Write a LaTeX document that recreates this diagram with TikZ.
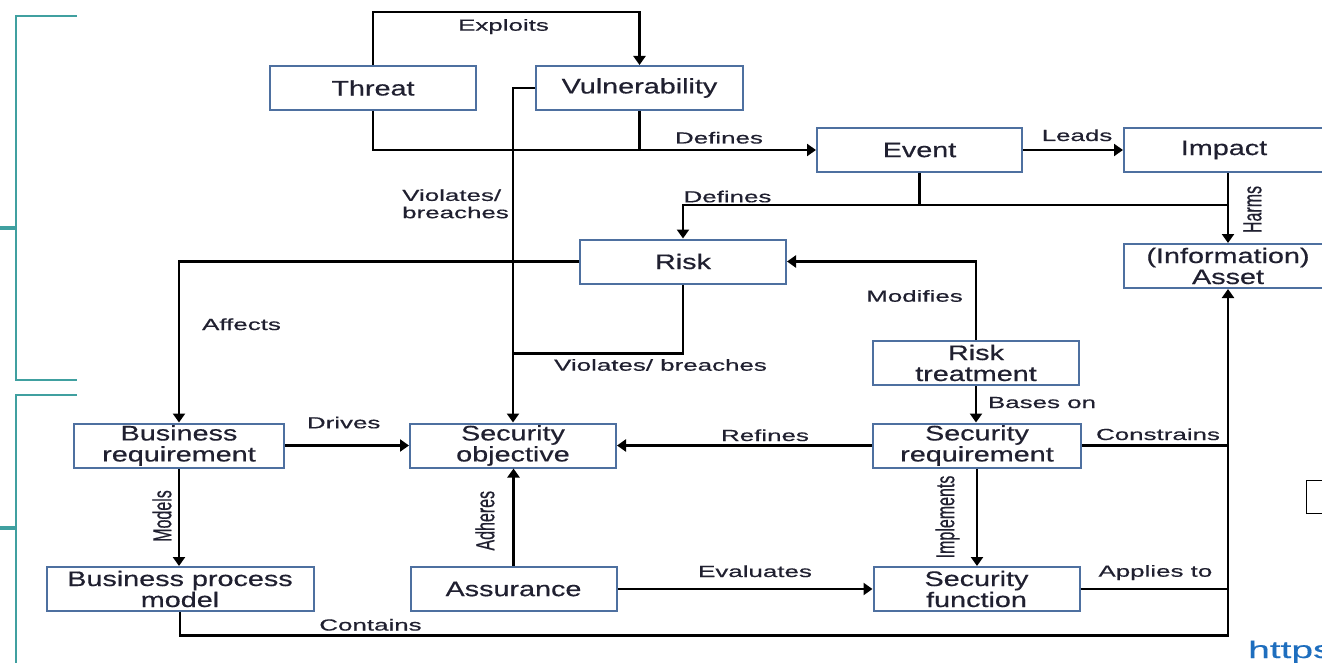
\documentclass[tikz,border=0pt]{standalone}
\usepackage{fontspec}
\usepackage{graphicx}
\usetikzlibrary{arrows.meta}
\setmainfont{Liberation Sans}[FakeBold=0.5]
\newfontfamily\boxfont{Liberation Sans}[FakeStretch=1.37, FakeBold=0.5]
\newfontfamily\lblfont{Liberation Sans}[FakeStretch=1.62, FakeBold=0.5]
\definecolor{boxblue}{RGB}{78,112,160}
\definecolor{inkdark}{RGB}{32,32,48}
\definecolor{bracketteal}{RGB}{64,160,160}
\definecolor{linkblue}{RGB}{30,110,190}
\tikzset{
  box/.style={draw=boxblue, line width=2pt, fill=white, minimum width=206,
    minimum height=44, inner sep=0pt, align=center, text=inkdark,
    font=\boxfont\fontsize{21}{21}\selectfont},
  conn/.style={line width=2.4pt, draw=black},
  arr/.style={conn, -{Triangle[length=9pt,width=12pt]}},
  lbl/.style={anchor=base, inner sep=0pt, text=inkdark,
    font=\lblfont\fontsize{16}{17.3}\selectfont},
  rlbl/.style={rotate=90, inner sep=0pt, text=inkdark,
    font=\fontsize{16}{16}\selectfont},
  brk/.style={draw=bracketteal, line width=2.4pt},
}
\newcommand{\tall}[1]{\scalebox{1}[1.62]{#1}}
\begin{document}
\begin{tikzpicture}[x=1pt,y=-1pt]
\useasboundingbox (0,0) rectangle (1322,663);
\clip (0,0) rectangle (1322,663);

% grouping brackets on the left
\draw[brk] (77,16) -- (16,16) -- (16,380) -- (77,380);
\draw[brk, line width=3.2pt] (0,228) -- (16,228);
\draw[brk] (77,395) -- (16,395) -- (16,670);
\draw[brk, line width=3.2pt] (0,528) -- (16,528);

% boxes
\node[box] (threat) at (373,88) {Threat};
\node[box, minimum width=207] (vuln) at (639.5,88) {Vulnerability};
\node[box, minimum width=205] (event) at (919.5,150) {Event};
\node[box, minimum width=200] (impact) at (1224,150) {Impact};
\node[box, minimum width=208] (asset) at (1228,266) {(Information)\\Asset};
\node[box] (risk) at (683,261.5) {Risk};
\node[box] (rtreat) at (976,363) {Risk\\treatment};
\node[box, minimum width=210] (breq) at (179,445.5) {Business\\requirement};
\node[box] (sobj) at (513,445.5) {Security\\objective};
\node[box, minimum width=208] (sreq) at (977,445.5) {Security\\requirement};
\node[box, minimum width=267] (bpm) at (180,589) {Business process\\model};
\node[box] (assur) at (513.5,589) {Assurance};
\node[box] (sfunc) at (976.5,589) {Security\\function};

% helper rows
\coordinate (toprow) at (0,12);
\coordinate (evrow) at (0,205);
\coordinate (botrow) at (0,635.5);
\coordinate (vjoin) at (513,353.5);

% connectors
\draw[arr] (threat.north) |- (vuln.north |- toprow) -- (vuln.north);
\draw[arr] (threat.south) |- (event.west);
\draw[conn] (vuln.south) -- (vuln.south |- event.west);
\draw[arr] (vuln.west) -| (sobj.north);
\draw[arr] (event.east) -- (impact.west);
\draw[conn] (event.south) -- (event.south |- evrow);
\draw[arr] (asset.north |- evrow) -| (risk.north);
\draw[arr] (impact.south -| asset.north) -- (asset.north);
\draw[arr] (risk.west) -| (breq.north);
\draw[conn] (risk.south) |- (vjoin);
\draw[arr] (rtreat.north) |- (risk.east);
\draw[arr] (rtreat.south) -- (rtreat.south |- sreq.north);
\draw[arr] (breq.east) -- (sobj.west);
\draw[arr] (sreq.west) -- (sobj.east);
\draw[conn] (sreq.east) -- (sreq.east -| asset.south);
\draw[arr] (breq.south) -- (breq.south |- bpm.north);
\draw[arr] (assur.north) -- (assur.north |- sobj.south);
\draw[arr] (assur.east) -- (sfunc.west);
\draw[arr] (sreq.south) -- (sreq.south |- sfunc.north);
\draw[conn] (sfunc.east) -- (sfunc.east -| asset.south);
\draw[arr, line width=2.8pt] (bpm.south) |- (botrow -| asset.south) -- (asset.south);

% connector labels
\node[lbl] (lexp) at (503.5,30.7) {Exploits};
\node[lbl] (ldef1) at (719,143.5) {Defines};
\node[lbl] (llead) at (1077,141) {Leads};
\node[lbl] (ldef2) at (727.5,202.3) {Defines};
\node[lbl, anchor=west, align=left] (lviol1) at (402,203.8) {Violates/\\breaches};
\node[lbl] (laff) at (241.5,330) {Affects};
\node[lbl] (lmod) at (914.5,301.7) {Modifies};
\node[lbl] (lviol2) at (660.5,370.7) {Violates/ breaches};
\node[lbl] (lbase) at (1042,408) {Bases on};
\node[lbl] (ldrv) at (343.7,428.3) {Drives};
\node[lbl] (lref) at (765,441) {Refines};
\node[lbl] (lcon) at (1158,440) {Constrains};
\node[lbl] (leval) at (755,577) {Evaluates};
\node[lbl] (lapp) at (1155.4,576.7) {Applies to};
\node[lbl] (lcont) at (370.5,630.5) {Contains};
\node[rlbl] (lharm) at (1252.5,209.5) {\tall{Harms}};
\node[rlbl] (lmodl) at (162,516) {\tall{Models}};
\node[rlbl] (ladh) at (485,520.7) {\tall{Adheres}};
\node[rlbl] (limp) at (947.5,517) {\tall{Implements}};

% partial items at the right edge
\draw[line width=1.5pt] (1306.5,480.5) rectangle (1335,513.5);
\node[anchor=base west, inner sep=0pt, text=linkblue,
  font=\lblfont\fontsize{24}{24}\selectfont] (link) at (1248,658) {https};
\end{tikzpicture}
\end{document}
